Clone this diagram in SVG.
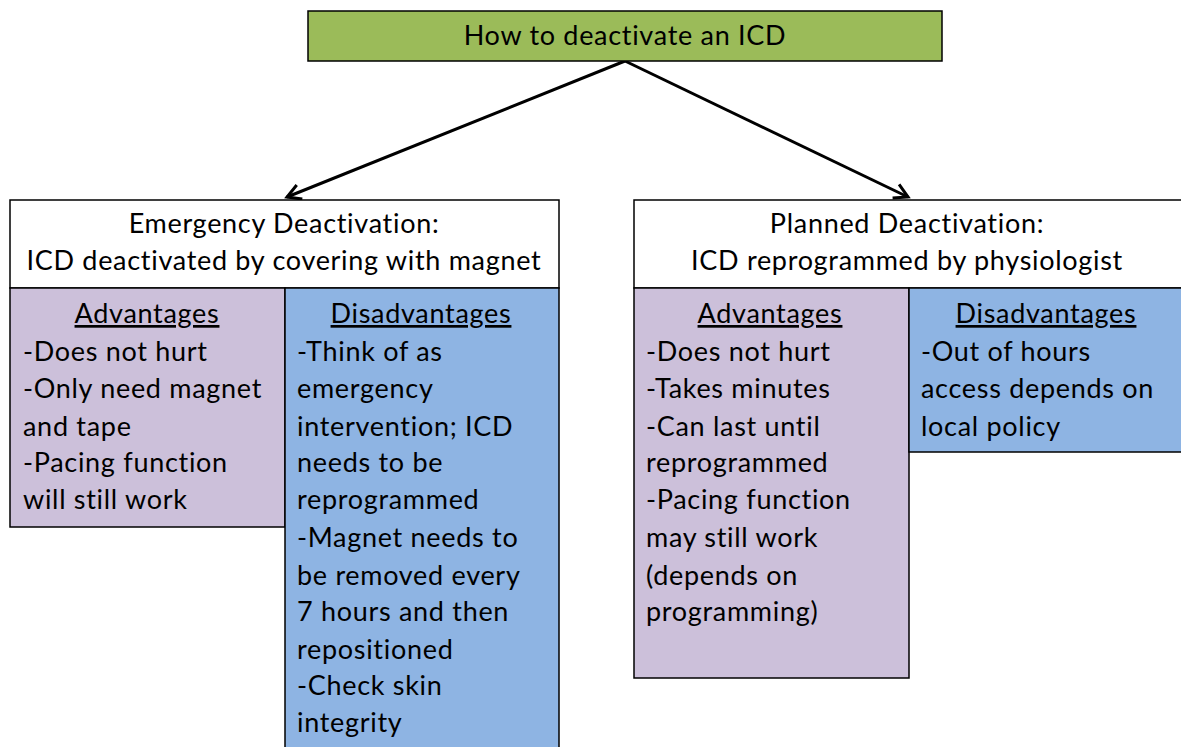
<svg xmlns="http://www.w3.org/2000/svg" width="1181" height="747" viewBox="0 0 1181 747">
<style>
text{font-family:Lato,"Liberation Sans",sans-serif;font-size:27px;letter-spacing:0.7px;fill:#000}
.c{text-anchor:middle}
.u{text-decoration:underline}
.box{stroke:#000;stroke-width:1.5}
.conn{stroke:#000;stroke-width:3;fill:none}
</style>
<defs>
<marker id="ah" viewBox="0 0 12 12" refX="10" refY="6" markerWidth="6" markerHeight="6" orient="auto" markerUnits="strokeWidth">
<path d="M1,1 L10,6 L1,11" fill="none" stroke="#000" stroke-width="2"/>
</marker>
</defs>
<g id="connectors">
<line class="conn" x1="625" y1="61" x2="287" y2="197" marker-end="url(#ah)"/>
<line class="conn" x1="625" y1="61" x2="908" y2="197" marker-end="url(#ah)"/>
</g>
<g id="root">
<rect class="box" x="308" y="11" width="634" height="50" fill="#9BBB59"/>
<text class="c" x="625" y="45">How to deactivate an ICD</text>
</g>
<g id="emergency">
<rect class="box" x="10" y="200" width="549" height="88" fill="#fff"/>
<text class="c" x="284" y="233">Emergency Deactivation:</text>
<text class="c" x="284" y="270">ICD deactivated by covering with magnet</text>
</g>
<g id="emergency-adv">
<rect class="box" x="10" y="288" width="275" height="239" fill="#CCC0DA"/>
<text class="c u" x="147" y="323">Advantages</text>
<text x="23" y="361">-Does not hurt</text>
<text x="23" y="398">-Only need magnet</text>
<text x="23" y="436">and tape</text>
<text x="23" y="472">-Pacing function</text>
<text x="23" y="509">will still work</text>
</g>
<g id="emergency-dis">
<rect class="box" x="285" y="288" width="274" height="470" fill="#8EB4E3"/>
<text class="c u" x="421" y="323">Disadvantages</text>
<text x="297" y="361">-Think of as</text>
<text x="297" y="398">emergency</text>
<text x="297" y="436">intervention; ICD</text>
<text x="297" y="472">needs to be</text>
<text x="297" y="509">reprogrammed</text>
<text x="297" y="547">-Magnet needs to</text>
<text x="297" y="585">be removed every</text>
<text x="297" y="621">7 hours and then</text>
<text x="297" y="659">repositioned</text>
<text x="297" y="695">-Check skin</text>
<text x="297" y="732">integrity</text>
</g>
<g id="planned">
<rect class="box" x="634" y="200" width="560" height="88" fill="#fff"/>
<text class="c" x="907" y="233">Planned Deactivation:</text>
<text class="c" x="907" y="270">ICD reprogrammed by physiologist</text>
</g>
<g id="planned-adv">
<rect class="box" x="634" y="288" width="275" height="390" fill="#CCC0DA"/>
<text class="c u" x="770" y="323">Advantages</text>
<text x="646" y="361">-Does not hurt</text>
<text x="646" y="398">-Takes minutes</text>
<text x="646" y="436">-Can last until</text>
<text x="646" y="472">reprogrammed</text>
<text x="646" y="509">-Pacing function</text>
<text x="646" y="547">may still work</text>
<text x="646" y="585">(depends on</text>
<text x="646" y="621">programming)</text>
</g>
<g id="planned-dis">
<rect class="box" x="909" y="288" width="285" height="164" fill="#8EB4E3"/>
<text class="c u" x="1046" y="323">Disadvantages</text>
<text x="921" y="361">-Out of hours</text>
<text x="921" y="398">access depends on</text>
<text x="921" y="436">local policy</text>
</g>
</svg>
